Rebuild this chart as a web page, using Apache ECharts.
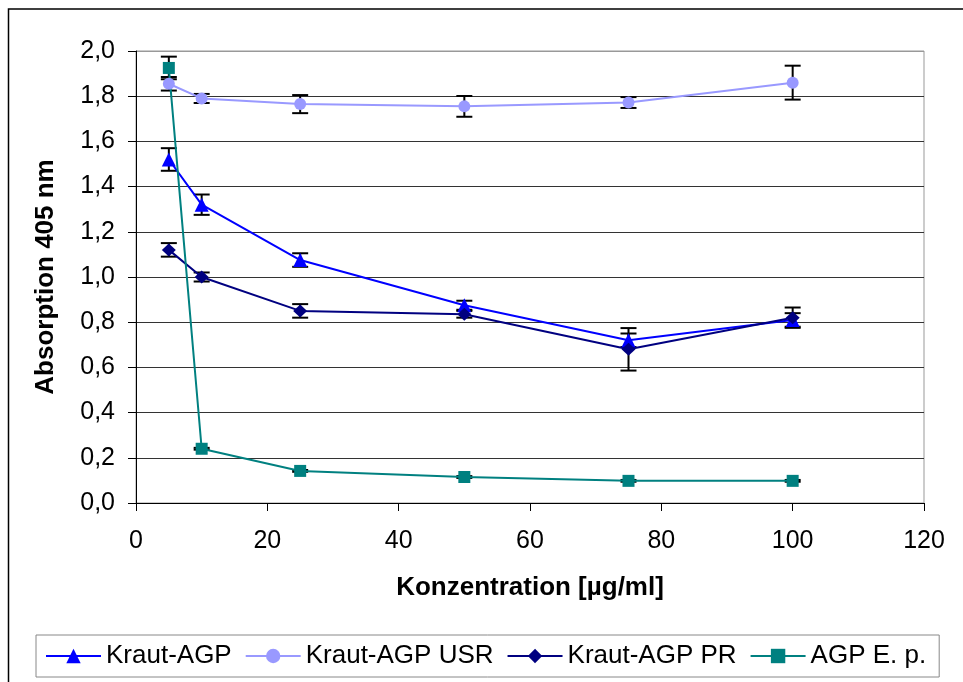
<!DOCTYPE html>
<html><head><meta charset="utf-8">
<script src="https://cdn.jsdelivr.net/npm/echarts@6/dist/echarts.min.js"></script>
<style>html,body{margin:0;padding:0;background:#fff}#c{width:963px;height:682px}</style>
</head><body><div id="c"></div>
<script>
const concentrations = [5, 10, 25, 50, 75, 100];
const krautAGP = [1.52, 1.32, 1.075, 0.875, 0.72, 0.81];
const krautAGPErr = [0.05, 0.045, 0.03, 0.02, 0.03, 0.03];
const krautUSR = [1.855, 1.79, 1.765, 1.755, 1.772, 1.86];
const krautUSRErr = [0.03, 0.02, 0.04, 0.046, 0.024, 0.075];
const krautPR = [1.12, 1.0, 0.85, 0.835, 0.68, 0.82];
const krautPRErr = [0.03, 0.02, 0.03, 0.015, 0.094, 0.045];
const agpEp = [1.925, 0.24, 0.142, 0.115, 0.098, 0.098];
const agpEpErr = [0.05, 0.004, 0.004, 0.004, 0.004, 0.004];
const seriesNames = ['Kraut-AGP', 'Kraut-AGP USR', 'Kraut-AGP PR', 'AGP E. p.'];
const FONT = 'Liberation Sans, Arial, sans-serif';

function pts(vals) { return concentrations.map((x, i) => [x, vals[i]]); }
function errs(vals, e) { return concentrations.map((x, i) => [x, vals[i] - e[i], vals[i] + e[i]]); }
function errSeries(name, vals, e) {
  return {
    type: 'custom', name: name, z: 1,
    encode: { x: 0, y: [1, 2] },
    data: errs(vals, e),
    renderItem: function (params, api) {
      const lo = api.coord([api.value(0), api.value(1)]);
      const hi = api.coord([api.value(0), api.value(2)]);
      const w = 8;
      const st = { stroke: '#000', lineWidth: 2 };
      return { type: 'group', children: [
        { type: 'line', shape: { x1: lo[0], y1: lo[1], x2: hi[0], y2: hi[1] }, style: st },
        { type: 'line', shape: { x1: lo[0] - w, y1: lo[1], x2: lo[0] + w, y2: lo[1] }, style: st },
        { type: 'line', shape: { x1: hi[0] - w, y1: hi[1], x2: hi[0] + w, y2: hi[1] }, style: st }
      ]};
    }
  };
}
function lineSeries(name, vals, color, symbol, size) {
  return {
    type: 'line', name: name, data: pts(vals), z: 3,
    symbol: symbol, symbolSize: size, showAllSymbol: true,
    lineStyle: { color: color, width: 2 },
    itemStyle: { color: color },
    emphasis: { disabled: true }
  };
}
const grid = ['#333','#333','#333','#333','#333','#333','#333','#333','#333','#333','#999'];
const chart = echarts.init(document.getElementById('c'), null, { renderer: 'canvas' });
chart.setOption({
  animation: false,
  backgroundColor: '#fff',
  graphic: [{ type: 'rect', shape: { x: 8.5, y: 9, width: 1200, height: 1200 }, style: { fill: 'none', stroke: '#000', lineWidth: 1.5 }, silent: true }],
  grid: { left: 136, top: 51, right: 39, bottom: 179, show: true, borderColor: '#999', borderWidth: 1 },
  xAxis: {
    type: 'value', min: 0, max: 120, interval: 20,
    name: 'Konzentration [µg/ml]', nameLocation: 'middle', nameGap: 72,
    nameTextStyle: { fontFamily: FONT, fontWeight: 'bold', fontSize: 26, color: '#000' },
    axisLine: { show: true, lineStyle: { color: '#000', width: 1 } },
    axisTick: { show: true, length: 8, lineStyle: { color: '#000' } },
    axisLabel: { fontFamily: FONT, fontSize: 25, color: '#000', margin: 26 },
    splitLine: { show: false }
  },
  yAxis: {
    type: 'value', min: 0, max: 2, interval: 0.2,
    name: 'Absorption 405 nm', nameLocation: 'middle', nameGap: 77,
    nameTextStyle: { fontFamily: FONT, fontWeight: 'bold', fontSize: 26, color: '#000' },
    axisLine: { show: true, lineStyle: { color: '#000', width: 1 } },
    axisTick: { show: true, length: 8, lineStyle: { color: '#000' } },
    axisLabel: { fontFamily: FONT, fontSize: 25, color: '#000', margin: 21,
      formatter: v => v.toFixed(1).replace('.', ',') },
    splitLine: { show: true, lineStyle: { color: grid, width: 1 } }
  },
  legend: {
    data: seriesNames, left: 36, top: 635, orient: 'horizontal',
    itemWidth: 55, itemHeight: 18, itemGap: 13,
    padding: [8, 13, 8, 9], borderColor: '#888', borderWidth: 1,
    textStyle: { fontFamily: FONT, fontSize: 26, color: '#000' }
  },
  series: [
    errSeries('e1', krautAGP, krautAGPErr),
    errSeries('e2', krautUSR, krautUSRErr),
    errSeries('e3', krautPR, krautPRErr),
    errSeries('e4', agpEp, agpEpErr),
    lineSeries(seriesNames[0], krautAGP, '#0000FF', 'triangle', 14),
    lineSeries(seriesNames[1], krautUSR, '#9999FF', 'circle', 12),
    lineSeries(seriesNames[2], krautPR, '#000080', 'diamond', [14, 13]),
    lineSeries(seriesNames[3], agpEp, '#008080', 'rect', 12)
  ]
});
</script></body></html>
